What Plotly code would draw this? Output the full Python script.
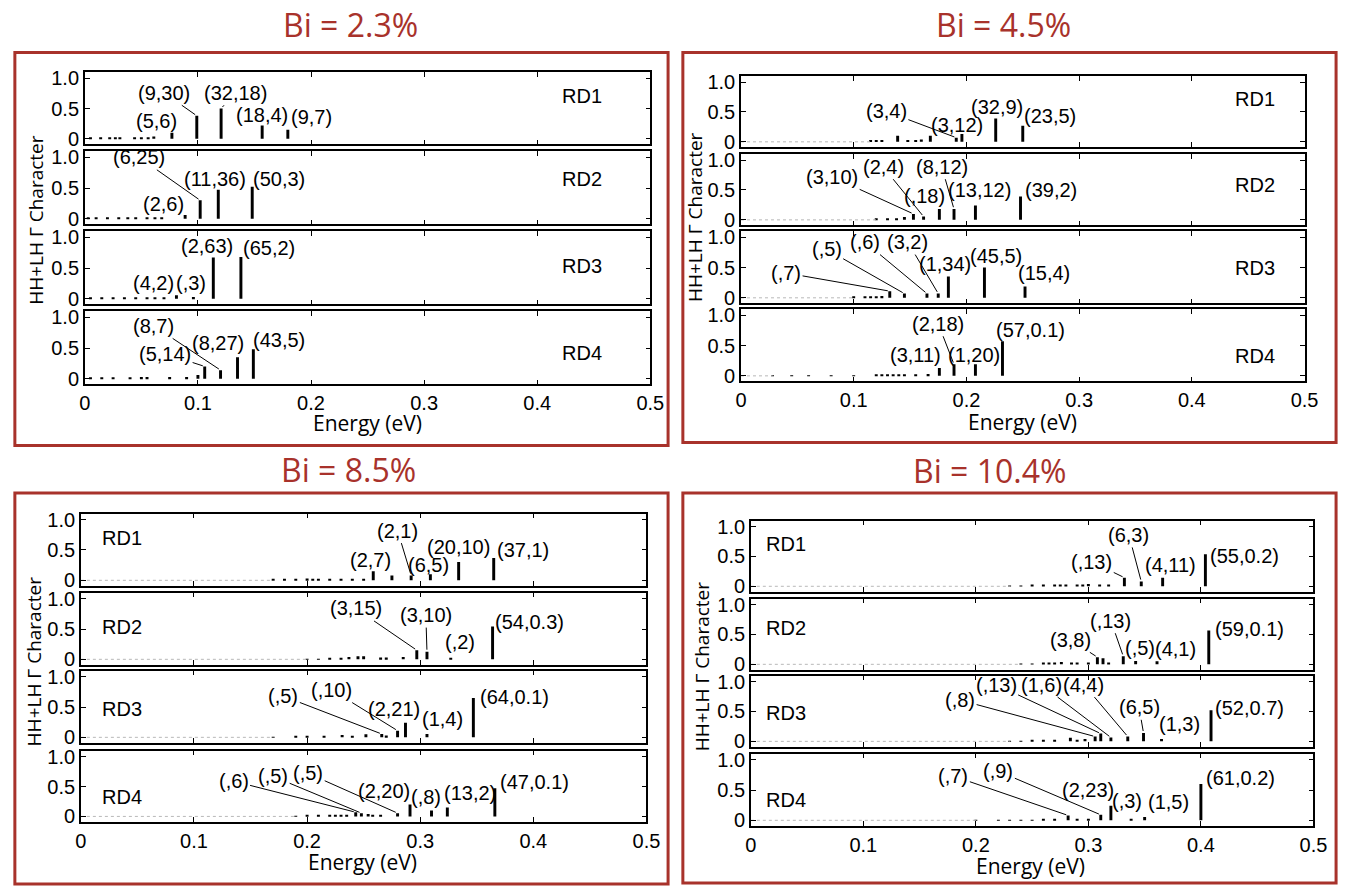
import plotly.graph_objects as go

W, H = 1355, 892

# ---------------------------------------------------------------- data
x_ticks = [0, 0.1, 0.2, 0.3, 0.4, 0.5]
x_tick_text = ["0", "0.1", "0.2", "0.3", "0.4", "0.5"]
y_ticks = [0, 0.5, 1.0]
y_tick_text = ["0", "0.5", "1.0"]
rd_names = ["RD1", "RD2", "RD3", "RD4"]
panel_titles = ["Bi = 2.3%", "Bi = 4.5%", "Bi = 8.5%", "Bi = 10.4%"]

# Bi = 2.3 %  (one inner list per RD1..RD4)
bi23_energy = [
    [0.0770, 0.0990, 0.1205, 0.1568, 0.1795],
    [0.0887, 0.1020, 0.1180, 0.1480],
    [0.0810, 0.0960, 0.1136, 0.1380],
    [0.1060, 0.1200, 0.1350, 0.1490],
]
bi23_char = [
    [0.10, 0.38, 0.50, 0.22, 0.15],
    [0.06, 0.30, 0.47, 0.52],
    [0.055, 0.03, 0.67, 0.68],
    [0.20, 0.14, 0.35, 0.48],
]
bi23_label = [
    ["(5,6)", "(9,30)", "(32,18)", "(18,4)", "(9,7)"],
    ["(2,6)", "(6,25)", "(11,36)", "(50,3)"],
    ["(4,2)", "(,3)", "(2,63)", "(65,2)"],
    ["(5,14)", "(8,7)", "(8,27)", "(43,5)"],
]
bi23_minor_e = [
    [0.005, 0.014, 0.022, 0.027, 0.031, 0.044, 0.050, 0.056, 0.061],
    [0.003, 0.010, 0.020, 0.030, 0.038, 0.045, 0.055, 0.062, 0.068],
    [0.005, 0.015, 0.025, 0.035, 0.045, 0.055, 0.062, 0.070],
    [0.005, 0.015, 0.025, 0.040, 0.050, 0.055, 0.075, 0.090, 0.100],
]
bi23_minor_c = [
    [0.02, 0.02, 0.02, 0.02, 0.02, 0.02, 0.02, 0.02, 0.04],
    [0.02, 0.02, 0.02, 0.02, 0.02, 0.02, 0.02, 0.02, 0.02],
    [0.02, 0.02, 0.02, 0.02, 0.02, 0.02, 0.02, 0.02],
    [0.02, 0.02, 0.02, 0.02, 0.03, 0.03, 0.03, 0.03, 0.06],
]

# Bi = 4.5 %
bi45_energy = [
    [0.191, 0.196, 0.226, 0.250],
    [0.153, 0.162, 0.176, 0.189, 0.208, 0.248],
    [0.132, 0.145, 0.165, 0.175, 0.184, 0.216, 0.252],
    [0.176, 0.189, 0.208, 0.232],
]
bi45_char = [
    [0.07, 0.13, 0.39, 0.27],
    [0.10, 0.055, 0.18, 0.18, 0.24, 0.39],
    [0.11, 0.07, 0.07, 0.07, 0.35, 0.50, 0.185],
    [0.13, 0.19, 0.19, 0.57],
]
bi45_label = [
    ["(3,4)", "(3,12)", "(32,9)", "(23,5)"],
    ["(3,10)", "(2,4)", "(,18)", "(8,12)", "(13,12)", "(39,2)"],
    ["(,7)", "(,5)", "(,6)", "(3,2)", "(1,34)", "(45,5)", "(15,4)"],
    ["(3,11)", "(2,18)", "(1,20)", "(57,0.1)"],
]
bi45_minor_e = [
    [0.115, 0.120, 0.125, 0.139, 0.148, 0.155, 0.160, 0.168],
    [0.120, 0.130, 0.138, 0.145],
    [0.100, 0.110, 0.115, 0.120, 0.125],
    [0.028, 0.045, 0.060, 0.080, 0.100, 0.120, 0.125, 0.130, 0.135, 0.140, 0.145, 0.155, 0.166],
]
bi45_minor_c = [
    [0.03, 0.03, 0.03, 0.10, 0.02, 0.02, 0.04, 0.10],
    [0.02, 0.02, 0.02, 0.05],
    [0.02, 0.02, 0.02, 0.02, 0.03],
    [0.01, 0.01, 0.01, 0.01, 0.01, 0.02, 0.02, 0.02, 0.02, 0.02, 0.02, 0.02, 0.03],
]

# Bi = 8.5 %
bi85_energy = [
    [0.2585, 0.292, 0.309, 0.334, 0.365],
    [0.297, 0.306, 0.327, 0.364],
    [0.266, 0.280, 0.287, 0.306, 0.347],
    [0.243, 0.248, 0.280, 0.291, 0.310, 0.324, 0.366],
]
bi85_char = [
    [0.15, 0.08, 0.10, 0.30, 0.37],
    [0.15, 0.125, 0.02, 0.54],
    [0.055, 0.11, 0.24, 0.055, 0.65],
    [0.07, 0.055, 0.055, 0.20, 0.10, 0.15, 0.47],
]
bi85_label = [
    ["(2,7)", "(2,1)", "(6,5)", "(20,10)", "(37,1)"],
    ["(3,15)", "(3,10)", "(,2)", "(54,0.3)"],
    ["(,5)", "(,10)", "(2,21)", "(1,4)", "(64,0.1)"],
    ["(,6)", "(,5)", "(,5)", "(2,20)", "(,8)", "(13,2)", "(47,0.1)"],
]
bi85_minor_e = [
    [0.170, 0.180, 0.190, 0.200, 0.205, 0.210, 0.220, 0.230, 0.240, 0.250, 0.275],
    [0.200, 0.210, 0.220, 0.230, 0.237, 0.245, 0.250, 0.265, 0.270, 0.285],
    [0.170, 0.190, 0.200, 0.215, 0.231, 0.240, 0.252, 0.270],
    [0.190, 0.200, 0.210, 0.220, 0.225, 0.230, 0.235, 0.254, 0.258, 0.265],
]
bi85_minor_c = [
    [0.02, 0.02, 0.02, 0.03, 0.02, 0.02, 0.02, 0.02, 0.02, 0.02, 0.08],
    [0.01, 0.01, 0.02, 0.02, 0.04, 0.05, 0.05, 0.03, 0.03, 0.04],
    [0.01, 0.02, 0.02, 0.02, 0.04, 0.02, 0.05, 0.03],
    [0.01, 0.02, 0.02, 0.02, 0.02, 0.02, 0.02, 0.04, 0.03, 0.02],
]

# Bi = 10.4 %
bi104_energy = [
    [0.332, 0.347, 0.366, 0.404],
    [0.308, 0.331, 0.342, 0.361, 0.407],
    [0.306, 0.311, 0.320, 0.335, 0.349, 0.365, 0.409],
    [0.282, 0.311, 0.320, 0.338, 0.350, 0.400],
]
bi104_char = [
    [0.145, 0.08, 0.145, 0.535],
    [0.12, 0.135, 0.055, 0.05, 0.565],
    [0.08, 0.13, 0.065, 0.08, 0.14, 0.04, 0.52],
    [0.08, 0.09, 0.24, 0.025, 0.055, 0.60],
]
bi104_label = [
    ["(,13)", "(6,3)", "(4,11)", "(55,0.2)"],
    ["(3,8)", "(,13)", "(,5)", "(4,1)", "(59,0.1)"],
    ["(,8)", "(,13)", "(1,6)", "(4,4)", "(6,5)", "(1,3)", "(52,0.7)"],
    ["(,7)", "(,9)", "(2,23)", "(,3)", "(1,5)", "(61,0.2)"],
]
bi104_minor_e = [
    [0.230, 0.240, 0.250, 0.260, 0.270, 0.275, 0.280, 0.290, 0.295, 0.300, 0.310, 0.318],
    [0.240, 0.250, 0.260, 0.265, 0.270, 0.276, 0.285, 0.290, 0.300, 0.313, 0.318],
    [0.230, 0.240, 0.250, 0.260, 0.270, 0.284, 0.290, 0.297],
    [0.200, 0.220, 0.230, 0.240, 0.250, 0.260, 0.270, 0.290, 0.300],
]
bi104_minor_c = [
    [0.01, 0.01, 0.02, 0.02, 0.03, 0.03, 0.02, 0.02, 0.02, 0.04, 0.02, 0.03],
    [0.01, 0.01, 0.02, 0.02, 0.02, 0.04, 0.02, 0.02, 0.02, 0.10, 0.02],
    [0.01, 0.01, 0.02, 0.02, 0.02, 0.06, 0.02, 0.04],
    [0.01, 0.01, 0.01, 0.01, 0.01, 0.02, 0.02, 0.02, 0.02],
]

# end of the dense, barely visible states near the band edge (eV)
bi23_faint_end = [0.0, 0.0, 0.0, 0.0]
bi45_faint_end = [0.115, 0.120, 0.100, 0.028]
bi85_faint_end = [0.170, 0.200, 0.170, 0.190]
bi104_faint_end = [0.230, 0.240, 0.230, 0.200]

# ---------------------------------------------------------------- layout
# label placement in data units: (x, y, draw leader line)
bi23_label_xy = [
    [(0.063, 0.30, 0), (0.070, 0.76, 1), (0.133, 0.76, 1), (0.157, 0.40, 0), (0.200, 0.36, 0)],
    [(0.070, 0.24, 0), (0.048, 1.00, 1), (0.115, 0.64, 0), (0.172, 0.64, 0)],
    [(0.061, 0.25, 0), (0.094, 0.25, 0), (0.108, 0.86, 0), (0.163, 0.82, 0)],
    [(0.071, 0.41, 1), (0.061, 0.86, 1), (0.118, 0.58, 0), (0.172, 0.63, 0)],
]
bi45_label_xy = [
    [(0.129, 0.51, 1), (0.192, 0.29, 0), (0.227, 0.58, 0), (0.274, 0.44, 0)],
    [(0.081, 0.72, 1), (0.126, 0.89, 1), (0.163, 0.40, 0), (0.178, 0.89, 1), (0.212, 0.50, 0), (0.275, 0.50, 0)],
    [(0.040, 0.41, 1), (0.076, 0.80, 1), (0.110, 0.92, 1), (0.148, 0.92, 1), (0.181, 0.55, 0), (0.226, 0.69, 0), (0.269, 0.41, 0)],
    [(0.155, 0.34, 0), (0.175, 0.86, 1), (0.207, 0.34, 0), (0.257, 0.76, 0)],
]
bi85_label_xy = [
    [(0.256, 0.335, 0), (0.280, 0.82, 1), (0.307, 0.25, 0), (0.334, 0.55, 0), (0.391, 0.50, 0)],
    [(0.243, 0.84, 1), (0.305, 0.73, 1), (0.335, 0.29, 0), (0.397, 0.62, 0)],
    [(0.179, 0.68, 1), (0.222, 0.78, 1), (0.277, 0.47, 0), (0.320, 0.31, 0), (0.383, 0.67, 0)],
    [(0.135, 0.59, 1), (0.170, 0.67, 1), (0.201, 0.72, 1), (0.268, 0.42, 0), (0.305, 0.32, 0), (0.344, 0.39, 0), (0.401, 0.57, 0)],
]
bi104_label_xy = [
    [(0.303, 0.41, 1), (0.336, 0.86, 1), (0.373, 0.35, 0), (0.439, 0.51, 0)],
    [(0.284, 0.41, 1), (0.320, 0.73, 1), (0.346, 0.27, 0), (0.377, 0.26, 0), (0.443, 0.59, 0)],
    [(0.186, 0.69, 1), (0.218, 0.95, 1), (0.258, 0.95, 1), (0.296, 0.95, 1), (0.345, 0.57, 1), (0.381, 0.29, 0), (0.443, 0.55, 0)],
    [(0.180, 0.73, 1), (0.220, 0.81, 1), (0.300, 0.50, 0), (0.334, 0.32, 0), (0.371, 0.30, 0), (0.435, 0.70, 0)],
]

panels = [
    dict(title=panel_titles[0], E=bi23_energy, C=bi23_char, L=bi23_label,
         mE=bi23_minor_e, mC=bi23_minor_c, faint=bi23_faint_end, lxy=bi23_label_xy,
         rd_x=0.440, rd_y=[0.70, 0.64, 0.53, 0.42],
         xpx=(80, 654), rows=[(68, 141), (148, 222), (229, 303), (310, 384)],
         box=(9, 48, 672, 446), title_xy=(350, 20), ytitle_xy=(31, 218), xtitle_xy=(367, 423)),
    dict(title=panel_titles[1], E=bi45_energy, C=bi45_char, L=bi45_label,
         mE=bi45_minor_e, mC=bi45_minor_c, faint=bi45_faint_end, lxy=bi45_label_xy,
         rd_x=0.456, rd_y=[0.72, 0.58, 0.49, 0.32],
         xpx=(746, 1318), rows=[(72, 144), (151, 223), (229, 302), (308, 381)],
         box=(687, 48, 1350, 443), title_xy=(1012, 20), ytitle_xy=(700, 215), xtitle_xy=(1032, 422)),
    dict(title=panel_titles[2], E=bi85_energy, C=bi85_char, L=bi85_label,
         mE=bi85_minor_e, mC=bi85_minor_c, faint=bi85_faint_end, lxy=bi85_label_xy,
         rd_x=0.036, rd_y=[0.69, 0.54, 0.47, 0.33],
         xpx=(76, 650), rows=[(515, 588), (595, 668), (674, 747), (755, 827)],
         box=(9, 494, 672, 890), title_xy=(348, 470), ytitle_xy=(28, 665), xtitle_xy=(362, 868)),
    dict(title=panel_titles[3], E=bi104_energy, C=bi104_char, L=bi104_label,
         mE=bi104_minor_e, mC=bi104_minor_c, faint=bi104_faint_end, lxy=bi104_label_xy,
         rd_x=0.031, rd_y=[0.71, 0.60, 0.48, 0.34],
         xpx=(756, 1327), rows=[(522, 594), (601, 673), (679, 751), (758, 831)],
         box=(687, 494, 1350, 889), title_xy=(998, 471), ytitle_xy=(706, 670), xtitle_xy=(1040, 872)),
]

RED = "#a8322b"
FONT = "Liberation Sans, Arial, sans-serif"
TITLE_FONT = "Open Sans, Liberation Sans, sans-serif"
LABEL_SIZE = 20
TICK_SIZE = 20
BAR_W = 0.0026
Y_RANGE = [-0.09, 1.1]


def px_x(p):
    return p / W


def px_y(p):
    return 1 - p / H


fig = go.Figure()
layout = {}
annotations = []
shapes = []

k = 0
for p in panels:
    for r in range(4):
        k += 1
        xa = "x" if k == 1 else f"x{k}"
        ya = "y" if k == 1 else f"y{k}"
        xkey = "xaxis" if k == 1 else f"xaxis{k}"
        ykey = "yaxis" if k == 1 else f"yaxis{k}"
        top, bot = p["rows"][r]
        bottom_row = r == 3

        layout[xkey] = dict(
            domain=[px_x(p["xpx"][0]), px_x(p["xpx"][1])], anchor=ya,
            range=[0, 0.5], tickvals=x_ticks, ticktext=x_tick_text,
            showticklabels=bottom_row, ticks="inside", ticklen=5, tickwidth=1,
            tickcolor="black", showline=True, linecolor="black", linewidth=1.5,
            mirror="allticks", showgrid=False, zeroline=False,
            tickfont=dict(family=FONT, size=TICK_SIZE, color="black"),
        )
        layout[ykey] = dict(
            domain=[px_y(bot), px_y(top)], anchor=xa,
            range=Y_RANGE, tickvals=y_ticks, ticktext=y_tick_text,
            ticks="inside", ticklen=5, tickwidth=1, tickcolor="black",
            showline=True, linecolor="black", linewidth=1.5, mirror="allticks",
            showgrid=False, zeroline=False,
            tickfont=dict(family=FONT, size=TICK_SIZE, color="black"),
        )

        # faint continuum of tiny states near the band edge
        if p["faint"][r] > 0:
            fig.add_trace(go.Scatter(
                x=[0, p["faint"][r]], y=[0, 0], mode="lines",
                line=dict(color="#b8b8b8", width=1, dash="dot"),
                xaxis=xa, yaxis=ya, hoverinfo="skip", showlegend=False))

        # weak states
        fig.add_trace(go.Bar(
            x=p["mE"][r], y=p["mC"][r], width=BAR_W,
            marker=dict(color="black", line=dict(width=0)),
            xaxis=xa, yaxis=ya, showlegend=False))
        # labelled states
        fig.add_trace(go.Bar(
            x=p["E"][r], y=p["C"][r], width=BAR_W,
            marker=dict(color="black", line=dict(width=0)),
            xaxis=xa, yaxis=ya, showlegend=False))

        for e, c, lab, (tx, ty, lead) in zip(p["E"][r], p["C"][r], p["L"][r], p["lxy"][r]):
            if lead:
                annotations.append(dict(
                    x=e, y=c, xref=xa, yref=ya, ax=tx, ay=ty, axref=xa, ayref=ya,
                    text=lab, showarrow=True, arrowhead=0, arrowwidth=1,
                    arrowcolor="black", standoff=2,
                    xanchor="center", yanchor="middle",
                    font=dict(family=FONT, size=LABEL_SIZE, color="black")))
            else:
                annotations.append(dict(
                    x=tx, y=ty, xref=xa, yref=ya, text=lab, showarrow=False,
                    xanchor="center", yanchor="middle",
                    font=dict(family=FONT, size=LABEL_SIZE, color="black")))

        annotations.append(dict(
            x=p["rd_x"], y=p["rd_y"][r], xref=xa, yref=ya, text=rd_names[r],
            showarrow=False, xanchor="center", yanchor="middle",
            font=dict(family=FONT, size=20, color="black")))

    # panel frame, title and axis titles
    x0, y0, x1, y1 = p["box"]
    shapes.append(dict(type="rect", xref="paper", yref="paper",
                       x0=px_x(x0), x1=px_x(x1), y0=px_y(y1), y1=px_y(y0),
                       line=dict(color=RED, width=3)))
    annotations.append(dict(
        x=px_x(p["title_xy"][0]), y=px_y(p["title_xy"][1]), xref="paper", yref="paper",
        text=p["title"], showarrow=False, xanchor="center", yanchor="middle",
        font=dict(family=TITLE_FONT, size=32, color=RED)))
    annotations.append(dict(
        x=px_x(p["ytitle_xy"][0]), y=px_y(p["ytitle_xy"][1]), xref="paper", yref="paper",
        text="HH+LH Γ Character", textangle=-90, showarrow=False,
        xanchor="center", yanchor="middle",
        font=dict(family=TITLE_FONT, size=19, color="black")))
    annotations.append(dict(
        x=px_x(p["xtitle_xy"][0]), y=px_y(p["xtitle_xy"][1]), xref="paper", yref="paper",
        text="Energy (eV)", showarrow=False, xanchor="center", yanchor="middle",
        font=dict(family=TITLE_FONT, size=21, color="black")))

fig.update_layout(
    width=W, height=H, margin=dict(l=0, r=0, t=0, b=0),
    paper_bgcolor="white", plot_bgcolor="white",
    barmode="overlay", showlegend=False,
    annotations=annotations, shapes=shapes, **layout)

fig.write_html("out.html")
